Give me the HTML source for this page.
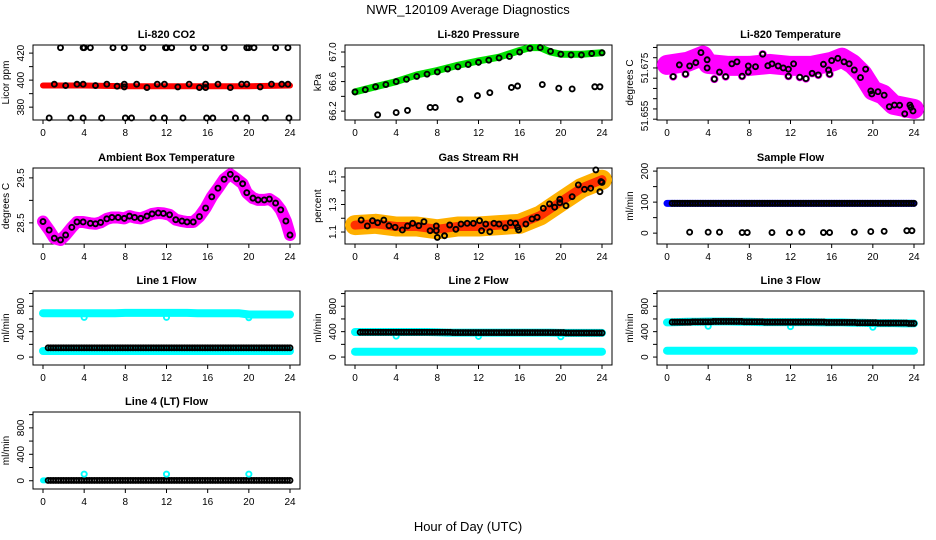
<!DOCTYPE html>
<html><head><meta charset="utf-8"><title>NWR_120109 Average Diagnostics</title>
<style>
html,body{margin:0;padding:0;background:#fff}
svg{display:block;font-family:"Liberation Sans",Arial,sans-serif}
.t{font-size:11px;font-weight:bold;text-anchor:middle}
.tk{font-size:10px;text-anchor:middle}
</style></head><body>
<svg id="fig" xmlns="http://www.w3.org/2000/svg" width="936" height="540" viewBox="0 0 936 540">
<text x="468" y="14" font-size="13" text-anchor="middle">NWR_120109  Average Diagnostics</text>
<text x="468" y="531" font-size="13" text-anchor="middle">Hour of Day (UTC)</text>
</svg>
<script>
// ---- data arrays ----
const hourTicks=[0,4,8,12,16,20,24];
const hrs=[0,1,2,3,4,5,6,7,8,9,10,11,12,13,14,15,16,17,18,19,20,21,22,23,24];
// CO2
const co2BandHours=[0,4,8,12,16,20,24];
const co2Band=[396,396,395.5,395.5,395.5,395.5,396];
const co2PtHours=[1.1,2.2,3.3,3.9,5.1,6.2,7.2,7.9,7.9,9.1,10.1,11.1,11.8,13.1,14.2,15.2,15.8,15.8,17,18.2,19.3,19.8,21.1,22.2,23.2,23.8];
const co2Pts=[397,396,397,397,396,397,395.5,397,395,397,394.5,397,397,395,397,394.5,397,394.5,397,394.5,397,397,395,397,397,397];
const co2HighHours=[1.7,3.9,4,4.6,6.8,7.9,9.7,11.9,12,12.5,14.6,15.8,17.6,19.8,20,20.5,22.6,23.8];
const co2HighVal=424;
const co2LowHours=[0.6,2.7,3.9,5.7,8,8.6,10.7,11.8,13.6,15.9,16.5,18.7,19.8,21.6,23.9];
const co2LowVal=372;
// Pressure
const presBandHours=[0,2,4,6,8,10,12,14,16,17,18,19,20,22,24];
const presBand=[66.46,66.53,66.6,66.69,66.75,66.82,66.88,66.93,67.02,67.06,67.06,67.0,66.97,66.97,66.99];
const presPts=[66.46,66.49,66.53,66.56,66.6,66.63,66.67,66.7,66.73,66.77,66.8,66.83,66.86,66.89,66.92,66.94,67.0,67.05,67.06,67.01,66.97,66.96,66.96,66.98,66.99];
const presLowHours=[2.2,4,5.1,7.3,7.8,10.2,11.9,13.1,15.2,15.8,18.2,19.8,21.1,23.3,23.8];
const presLow=[66.15,66.18,66.21,66.25,66.25,66.36,66.41,66.45,66.52,66.54,66.56,66.51,66.5,66.53,66.53];
// Li-820 temperature
const tempBandHours=[0,2,3.5,4,6,8,10,12,14,16,17,18,19,20,21,22,24];
const tempBand=[51.6765,51.678,51.681,51.677,51.676,51.676,51.677,51.676,51.676,51.678,51.680,51.677,51.672,51.664,51.662,51.657,51.655];
const tempPtHours=[0.6,1.2,1.8,2.2,2.8,3.3,3.9,3.9,4.6,5.1,5.7,6.3,6.8,7.3,7.9,7.9,8.6,9.3,9.8,10.2,10.8,11.3,11.8,11.8,12.3,12.9,13.5,14.1,14.7,15.2,15.7,15.8,16.0,16.6,17.2,17.7,18.2,18.8,19.3,19.8,19.9,20.5,21.1,21.6,22.1,22.6,23.1,23.6,23.7,23.9];
const tempPts=[51.6708,51.6765,51.672,51.676,51.6776,51.6825,51.679,51.675,51.6696,51.673,51.6708,51.677,51.678,51.671,51.676,51.673,51.6756,51.6817,51.6761,51.677,51.676,51.675,51.6744,51.671,51.677,51.6705,51.6698,51.6724,51.6716,51.6768,51.674,51.672,51.6786,51.6797,51.678,51.677,51.674,51.6703,51.6744,51.6638,51.6623,51.6634,51.6617,51.6561,51.6569,51.6568,51.6526,51.6569,51.6558,51.654];
// Ambient box temperature
const ambHours=[0,0.6,1.1,1.7,2.2,2.8,3.3,3.9,4.6,5.1,5.6,6.2,6.7,7.3,7.9,8.4,8.9,9.5,10.1,10.6,11.2,11.7,12.3,12.9,13.5,14.0,14.6,15.2,15.8,16.4,17.0,17.6,18.2,18.8,19.4,19.8,20.4,20.9,21.5,22.0,22.6,23.1,23.6,24];
const ambVals=[28.53,28.34,28.16,28.12,28.23,28.4,28.52,28.52,28.49,28.48,28.51,28.59,28.62,28.62,28.6,28.65,28.62,28.6,28.65,28.7,28.72,28.71,28.68,28.57,28.54,28.52,28.52,28.64,28.83,29.08,29.27,29.47,29.58,29.48,29.37,29.17,29.05,29.01,29.01,29.03,28.94,28.79,28.54,28.23];
// Gas stream RH
const rhBandHours=[0,2,4,6,8,10,12,14,16,18,20,22,24];
const rhBand=[1.15,1.16,1.14,1.14,1.12,1.14,1.14,1.15,1.16,1.22,1.32,1.42,1.48];
const rhPtHours=[0.6,1.2,1.7,2.2,2.8,3.3,3.9,4.6,5.1,5.6,6.2,6.7,7.3,7.9,7.9,8.0,8.7,9.2,9.8,10.3,10.9,11.5,12.1,12.3,12.7,13.1,13.5,14.0,14.6,15.1,15.6,15.8,15.9,16.6,17.2,17.7,18.3,18.9,19.4,19.9,19.9,20.5,21.1,21.7,22.3,22.9,23.4,23.8,23.9,24];
const rhPts=[1.187,1.144,1.182,1.168,1.187,1.146,1.134,1.115,1.144,1.163,1.146,1.175,1.11,1.144,1.11,1.061,1.073,1.151,1.12,1.158,1.163,1.163,1.182,1.11,1.158,1.102,1.163,1.158,1.131,1.168,1.163,1.134,1.115,1.158,1.195,1.207,1.272,1.304,1.28,1.313,1.338,1.291,1.357,1.442,1.41,1.418,1.551,1.393,1.466,1.46];
// Sample flow
const sfBand=[96,96,96,96,96,96,96,96,96,96,96,96,96,96,96,96,96,96,96,96,96,96,96,96,96];
const sfLowHours=[2.2,4,5.1,7.3,7.8,10.2,11.9,13.1,15.2,15.8,18.2,19.8,21.1,23.3,23.8];
const sfLow=[3,3,3,2,2,2,2,3,2,2,3,5,6,8,8];
// Line flows (hourly)
const l1Hi=[690,690,690,690,690,690,690,690,695,695,695,695,695,695,695,690,690,690,690,690,670,670,670,670,670];
const l1Lo=[95,95,95,95,95,95,95,95,95,95,95,95,95,95,95,95,95,95,95,95,95,95,95,95,95];
const l1Blk=[145,145,145,145,145,145,145,145,145,145,145,145,145,145,145,145,145,145,145,145,145,145,145,145,145];
const l2Hi=[395,395,395,395,395,395,395,395,390,385,385,385,385,385,385,385,385,385,385,385,380,380,380,380,380];
const l2Lo=[85,85,85,85,85,85,85,85,85,85,85,85,85,85,85,85,85,85,85,85,85,85,85,85,85];
const l2Blk=[390,390,390,390,390,390,390,390,390,385,385,385,385,385,385,385,385,385,385,385,380,380,380,380,380];
const l3Hi=[545,550,555,555,560,560,560,555,555,550,550,550,550,550,550,545,545,545,540,540,535,535,535,530,530];
const l3Lo=[100,100,100,100,100,100,100,100,100,100,100,100,100,100,100,100,100,100,100,100,100,100,100,100,100];
const l3Blk=[550,550,555,555,560,560,560,555,555,550,550,550,550,550,550,545,545,545,540,540,535,535,535,530,530];
const l4Blk=[5,5,5,5,5,5,5,5,5,5,5,5,5,5,5,5,5,5,5,5,5,5,5,5,5];
const dipHours=[4,12,20];
const l1Dip=[625,625,620];
const l2Dip=[330,325,320];
const l3Dip=[485,480,470];
const l4Dip=[100,100,100];
const flowTicks=[0,200,400,600,800,1000];
const flowLabels=[0,400,800];

// ---- drawing ----
const svg=document.getElementById('fig');
const NS='http://www.w3.org/2000/svg';
const TOPS=[45,168,291,412], BOTS=[120,244,365,489];
function mk(tag,attrs,parent){const e=document.createElementNS(NS,tag);for(const k in attrs)e.setAttribute(k,attrs[k]);(parent||svg).appendChild(e);return e;}

function panel(name,col,row,title,ylab,ymin,ymax,yticks,ylabels,labelPos){
  const L=33+312*col,R=300+312*col,T=TOPS[row],B=BOTS[row];
  const g=mk('g',{});
  
  
  const x=h=>43+312*col+h*247/24;
  const y=v=>B-(v-ymin)/(ymax-ymin)*(B-T);
  const bx=mk('rect',{x:L,y:T,width:R-L,height:B-T,fill:'none',stroke:'#000','stroke-width':1},g);
  
  
  const tt=mk('text',{x:(L+R)/2,y:T-7,class:'t'},g);tt.textContent=title;
  
  
  hourTicks.forEach(h=>{
    mk('line',{x1:x(h),x2:x(h),y1:B,y2:B+4,stroke:'#000'},g);
    const t=mk('text',{x:x(h),y:B+16,class:'tk'},g);t.textContent=h;
    
    
  });
  yticks.forEach(v=>mk('line',{x1:L-4,x2:L,y1:y(v),y2:y(v),stroke:'#000'},g));
  ylabels.forEach((lab,i)=>{
    const yy=labelPos?labelPos[i]:y(lab);
    const t=mk('text',{x:L-9,y:yy,class:'tk',transform:`rotate(-90 ${L-9} ${yy})`},g);
    t.textContent=lab;
    
    
  });
  const yl=mk('text',{x:L-24,y:(T+B)/2,class:'tk',transform:`rotate(-90 ${L-24} ${(T+B)/2})`},g);
  yl.textContent=ylab;
  
  
  const cg=mk('g',{},g);
  return {x,y,g:cg};
}
function band(p,hs,vs,color,w,nm){
  const pts=hs.map((h,i)=>p.x(h).toFixed(1)+','+p.y(vs[i]).toFixed(1)).join(' ');
  const pl=mk('polyline',{points:pts,fill:'none',stroke:color,'stroke-width':w,'stroke-linecap':'round','stroke-linejoin':'round'},p.g);
  
  
}
function pts(p,hs,vs,color,nm,r){
  hs.forEach((h,i)=>{
    const c=mk('circle',{cx:p.x(h),cy:p.y(vs[i]),r:r||2.5,fill:'none',stroke:color,'stroke-width':1.9},p.g);
    
    
  });
}
function chain(p,vals,color,nm,start){
  for(let i=0;i<vals.length-1;i++){
    for(let s=0;s<4;s++){
      const h=i+s*0.25+(start||0);
      if(h>24)continue;
      const c=mk('circle',{cx:p.x(h),cy:p.y(vals[i]),r:2.5,fill:'none',stroke:color,'stroke-width':1.9},p.g);
      
      
    }
  }
}

// CO2
let p=panel('co2',0,0,'Li-820 CO2','Licor ppm',370.5,426,[380,390,400,410,420],[380,400,420]);
band(p,co2BandHours,co2Band,'#ff0000',6,'co2-band');
pts(p,co2PtHours,co2Pts,'#000','co2-point');
pts(p,co2HighHours,co2HighHours.map(()=>co2HighVal),'#000','co2-outlier-high');
pts(p,co2LowHours,co2LowHours.map(()=>co2LowVal),'#000','co2-outlier-low');
// Pressure
p=panel('pressure',1,0,'Li-820 Pressure','kPa',66.08,67.095,[66.2,66.4,66.6,66.8,67.0],['66.2','66.6','67.0'],[111,81.5,52]);
band(p,presBandHours,presBand,'#00e000',7,'pressure-band');
pts(p,hrs,presPts,'#000','pressure-point');
pts(p,presLowHours,presLow,'#000','pressure-outlier');
// Temperature
p=panel('li820-temp',2,0,'Li-820 Temperature','degrees C',51.6496,51.6862,[51.65,51.655,51.66,51.665,51.67,51.675,51.68,51.685],['51.675','51.655'],[68,116]);
band(p,tempBandHours,tempBand,'#ff00ff',20,'temperature-band');
pts(p,tempPtHours,tempPts,'#ff00ff','temperature-scatter',3.2);
pts(p,tempPtHours,tempPts,'#000','temperature-point');
// Ambient
p=panel('ambient',0,1,'Ambient Box Temperature','degrees C',28.03,29.72,[28.5,29.0,29.5],['28.5','29.5'],[223,178]);
band(p,ambHours,ambVals,'#ff00ff',12,'ambient-band');
pts(p,ambHours,ambVals,'#000','ambient-point');
// RH
p=panel('rh',1,1,'Gas Stream RH','percent',1.013,1.565,[1.1,1.2,1.3,1.4,1.5],['1.1','1.3','1.5'],[232,204.5,177]);
band(p,rhBandHours,rhBand,'#ffb000',20,'rh-band-orange');
band(p,rhBandHours,rhBand,'#ff3000',9,'rh-band-red');
pts(p,rhPtHours,rhPts,'#000','rh-point');
// Sample flow
p=panel('sample-flow',2,1,'Sample Flow','ml/min',-35,210,[0,50,100,150,200],[0,100,200]);
band(p,hrs,sfBand,'#0000ff',7,'sample-flow-band');
chain(p,sfBand,'#000','sample-flow-point',0.5);
pts(p,sfLowHours,sfLow,'#000','sample-flow-outlier');
// Line flows
const lines=[['line1',0,2,'Line 1 Flow',l1Hi,l1Lo,l1Blk,l1Dip],['line2',1,2,'Line 2 Flow',l2Hi,l2Lo,l2Blk,l2Dip],['line3',2,2,'Line 3 Flow',l3Hi,l3Lo,l3Blk,l3Dip]];
lines.forEach(([nm,c,r,t,hi,lo,blk,dip])=>{
  const q=panel(nm,c,r,t,'ml/min',-125,1040,flowTicks,flowLabels);
  band(q,hrs,hi,'#00ffff',8,nm+'-high-band');
  band(q,hrs,lo,'#00ffff',8,nm+'-low-band');
  pts(q,dipHours,dip,'#00ffff','cyan-dip-point',2.6);
  chain(q,blk,'#000',nm+'-point',0.5);
});
p=panel('line4',0,3,'Line 4 (LT) Flow','ml/min',-125,1040,flowTicks,flowLabels);
band(p,[0,0.2],[5,5],'#00ffff',6,'line4-cyan-start');
chain(p,l4Blk,'#000','line4-point',0.5);
pts(p,dipHours,l4Dip,'#00ffff','line4-cyan-point',2.6);
</script>
</body></html>
